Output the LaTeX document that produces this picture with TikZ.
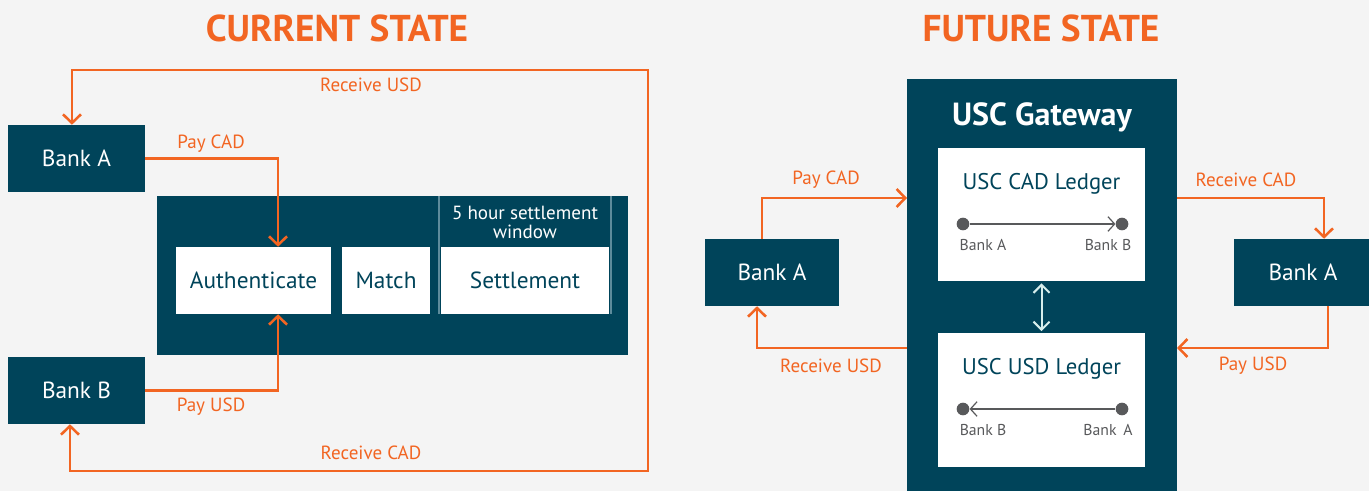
\documentclass[tikz,border=0pt]{standalone}
\usepackage{fontspec}
\setmainfont{PT Sans}
\usetikzlibrary{arrows.meta}
\definecolor{deepteal}{HTML}{00445A}
\definecolor{flame}{HTML}{F26522}
\definecolor{paper}{HTML}{F4F4F4}
\definecolor{dotgray}{HTML}{58595B}
\definecolor{seam}{HTML}{5E8C9C}
\definecolor{pale}{HTML}{D6EEEC}
\begin{document}
\begin{tikzpicture}[x=0.75pt,y=-0.75pt,
  bank/.style={fill=deepteal,text=white,font=\fontsize{17.5}{20}\selectfont,minimum width=102.75pt,minimum height=50.25pt,inner sep=0pt},
  stage/.style={fill=white,text=deepteal,font=\fontsize{17.5}{20}\selectfont,minimum height=50.25pt,inner sep=0pt},
  ledger/.style={fill=white,minimum width=155.25pt,minimum height=100pt,inner sep=0pt},
  flow/.style={flame,line width=1.9pt,-{Straight Barb[length=6.5pt,width=13.5pt]}},
  lbl/.style={text=flame,font=\fontsize{14.3}{16}\selectfont},
  title/.style={text=flame,font=\fontsize{28}{32}\selectfont\bfseries},
  dot/.style={circle,fill=dotgray,minimum size=9.5pt,inner sep=0pt},
  tiny/.style={text=dotgray,font=\fontsize{11.8}{13}\selectfont}]
\fill[paper] (0,0) rectangle (1369,491);
\useasboundingbox (0,0) rectangle (1369,491);
%
% current state
\node[title] (curT) at (337,28) {CURRENT STATE};
\node[bank] (bankA) at (76.5,158.5) {Bank A};
\node[bank] (bankB) at (76.5,390.5) {Bank B};
\node[fill=deepteal,minimum width=353.25pt,minimum height=119.25pt,inner sep=0pt] (core) at (392.5,275.5) {};
\node[stage,minimum width=116.25pt] (auth) at (253.5,280.5) {Authenticate};
\node[stage,minimum width=66pt] (match) at (386,280.5) {Match};
\node[stage,minimum width=126pt] (settle) at (525,280.5) {Settlement};
\draw[seam,line width=0.8pt] (439,196) -- (439,314) (611,196) -- (611,314);
\node[text=white,align=center,font=\fontsize{14.3}{14.3}\selectfont] (window) at (525,222.5) {5 hour settlement\\window};
%
\draw[flow] (bankA.east) -| ([xshift=18.4pt]auth.north);
\draw[flow] (bankB.east) -| ([xshift=18.4pt]auth.south);
\node[lbl] (payCAD) at (211,144) {Pay CAD};
\node[lbl] (payUSD) at (211,407) {Pay USD};
\coordinate (topR) at (648,70);
\coordinate (botR) at (648,471);
\draw[flow,{Straight Barb[length=6.5pt,width=13.5pt]}-{Straight Barb[length=6.5pt,width=13.5pt]}]
  ([xshift=-3.4pt]bankA.north) |- (topR) -- (botR) -| ([xshift=-4.9pt]bankB.south);
\node[lbl] (recUSD) at (371,85) {Receive USD};
\node[lbl] (recCAD) at (371,453) {Receive CAD};
%
% future state
\node[title] (futT) at (1041,28) {FUTURE STATE};
\node[fill=deepteal,minimum width=202.5pt,minimum height=310.5pt,inner sep=0pt] (gateway) at (1042,286) {};
\node[text=white,font=\fontsize{24}{28}\selectfont\bfseries] (gwT) at (1042,117) {USC Gateway};
\node[ledger] (cadL) at (1041.5,214.5) {};
\node[ledger] (usdL) at (1041.5,400) {};
\node[text=deepteal,font=\fontsize{17}{20}\selectfont] (cadT) at (1041.5,184) {USC CAD Ledger};
\node[text=deepteal,font=\fontsize{17}{20}\selectfont] (usdT) at (1041.5,369) {USC USD Ledger};
\node[dot] (c1) at (963,224) {};
\node[dot] (c2) at (1122,224) {};
\node[dot] (u1) at (963,409) {};
\node[dot] (u2) at (1122,409) {};
\draw[dotgray,line width=0.9pt,-{Straight Barb[length=5pt,width=11pt]}] (c1) -- (c2);
\draw[dotgray,line width=0.9pt,-{Straight Barb[length=5pt,width=11pt]}] (u2) -- (u1);
\node[tiny] (c1t) at (983,245) {Bank A};
\node[tiny] (c2t) at (1108,245) {Bank B};
\node[tiny] (u1t) at (983,430) {Bank B};
\node[tiny] (u2t) at (1108,430) {Bank\ \,A};
\draw[pale,line width=1.5pt,{Straight Barb[length=6pt,width=12pt]}-{Straight Barb[length=6pt,width=12pt]},shorten <=1.5pt,shorten >=1.5pt] (cadL.south) -- (usdL.north);
%
\node[bank,minimum width=100.5pt] (bankL) at (772,272.5) {Bank A};
\node[bank,minimum width=103.5pt] (bankR) at (1303,272.5) {Bank A};
\coordinate (cadIn) at (907,198);
\coordinate (cadOut) at (1177,198);
\coordinate (usdOut) at (907,348);
\coordinate (usdIn) at (1177,348);
\draw[flow] ([xshift=-7.5pt]bankL.north) |- (cadIn);
\draw[flow] (usdOut) -| ([xshift=-11.25pt]bankL.south);
\draw[flow] (cadOut) -| ([xshift=15.75pt]bankR.north);
\draw[flow] ([xshift=18.75pt]bankR.south) |- (usdIn);
\node[lbl] (payCAD2) at (826,180) {Pay CAD};
\node[lbl] (recUSD2) at (831,366) {Receive USD};
\node[lbl] (recCAD2) at (1246,180) {Receive CAD};
\node[lbl] (payUSD2) at (1253,366) {Pay USD};
%
\end{tikzpicture}
\end{document}
